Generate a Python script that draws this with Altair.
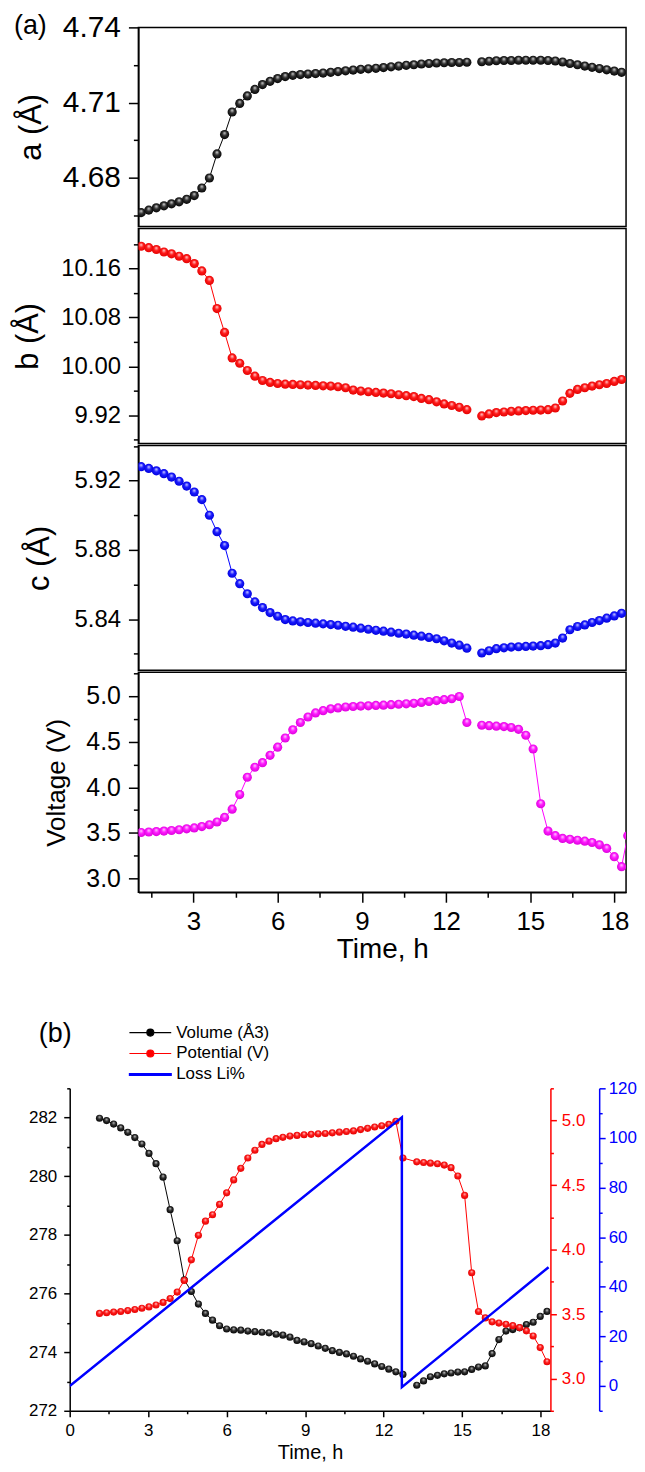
import altair as alt
import pandas as pd

FONT = "Liberation Sans"

# ---------------- values ----------------
T_CHARGE = [1.14, 1.41, 1.68, 1.95, 2.22, 2.49, 2.76, 3.03, 3.30, 3.57,
            3.84, 4.11, 4.38, 4.65, 4.92, 5.19, 5.46, 5.73, 6.00, 6.27,
            6.54, 6.81, 7.08, 7.35, 7.62, 7.89, 8.15, 8.42, 8.69, 8.96,
            9.23, 9.50, 9.77, 10.04, 10.31, 10.58, 10.85, 11.12, 11.39, 11.66,
            11.93, 12.20, 12.47, 12.74]
T_DISCHARGE = [13.27, 13.53, 13.79, 14.06, 14.32, 14.58, 14.84, 15.10, 15.37, 15.63,
               15.89, 16.15, 16.41, 16.68, 16.94, 17.20, 17.46, 17.72, 17.99, 18.25]

A_CHARGE = [4.6662, 4.6672, 4.6681, 4.6689, 4.6697, 4.6705, 4.6715, 4.6730, 4.6760, 4.6800,
            4.6896, 4.6973, 4.7063, 4.7097, 4.7127, 4.7153, 4.7172, 4.7185, 4.7196, 4.7204,
            4.7209, 4.7212, 4.7214, 4.7216, 4.7218, 4.7221, 4.7224, 4.7227, 4.7230, 4.7233,
            4.7235, 4.7237, 4.7240, 4.7243, 4.7246, 4.7249, 4.7251, 4.7254, 4.7256, 4.7258,
            4.7259, 4.7260, 4.7260, 4.7261]
A_DISCHARGE = [4.7263, 4.7265, 4.7267, 4.7268, 4.7268, 4.7269, 4.7269, 4.7269, 4.7269, 4.7268,
               4.7266, 4.7262, 4.7256, 4.7251, 4.7246, 4.7241, 4.7236, 4.7231, 4.7226, 4.7221]

B_CHARGE = [10.1963, 10.1940, 10.1910, 10.1870, 10.1840, 10.1800, 10.1760, 10.1680, 10.1560, 10.1405,
            10.0945, 10.0555, 10.0137, 10.0050, 9.9932, 9.9839, 9.9769, 9.9737, 9.9720, 9.9709,
            9.9704, 9.9699, 9.9693, 9.9688, 9.9682, 9.9677, 9.9666, 9.9650, 9.9612, 9.9596,
            9.9585, 9.9574, 9.9563, 9.9552, 9.9536, 9.9520, 9.9505, 9.9475, 9.9455, 9.9420,
            9.9385, 9.9360, 9.9330, 9.9292]
B_DISCHARGE = [9.9189, 9.9222, 9.9244, 9.9254, 9.9265, 9.9271, 9.9276, 9.9282, 9.9285, 9.9292,
               9.9319, 9.9433, 9.9558, 9.9623, 9.9650, 9.9677, 9.9699, 9.9720, 9.9753, 9.9785]

C_CHARGE = [5.9280, 5.9270, 5.9256, 5.9240, 5.9220, 5.9196, 5.9168, 5.9134, 5.9090, 5.9000,
            5.8905, 5.8825, 5.8665, 5.8605, 5.8547, 5.8500, 5.8467, 5.8438, 5.8417, 5.8398,
            5.8390, 5.8385, 5.8381, 5.8377, 5.8373, 5.8369, 5.8365, 5.8359, 5.8354, 5.8348,
            5.8342, 5.8336, 5.8331, 5.8325, 5.8319, 5.8314, 5.8308, 5.8302, 5.8295, 5.8287,
            5.8275, 5.8262, 5.8250, 5.8233]
C_DISCHARGE = [5.8205, 5.8218, 5.8230, 5.8235, 5.8239, 5.8241, 5.8243, 5.8245, 5.8247, 5.8253,
               5.8262, 5.8291, 5.8339, 5.8358, 5.8367, 5.8381, 5.8392, 5.8406, 5.8419, 5.8434]

V_CHARGE = [3.505, 3.510, 3.515, 3.520, 3.527, 3.535, 3.545, 3.555, 3.570, 3.590,
            3.620, 3.670, 3.760, 3.920, 4.110, 4.220, 4.270, 4.350, 4.440, 4.540,
            4.630, 4.710, 4.770, 4.815, 4.840, 4.860, 4.870, 4.880, 4.885, 4.890,
            4.893, 4.897, 4.900, 4.905, 4.910, 4.915, 4.920, 4.930, 4.940, 4.950,
            4.960, 4.970, 4.995, 4.710]
V_DISCHARGE = [4.680, 4.675, 4.670, 4.665, 4.655, 4.635, 4.570, 4.420, 3.820, 3.520,
               3.470, 3.440, 3.430, 3.420, 3.410, 3.395, 3.370, 3.330, 3.240, 3.130]
V_TAIL_T = [18.47]
V_TAIL = [3.47]

VOL_CHARGE = [281.98, 281.90, 281.78, 281.65, 281.50, 281.32, 281.10, 280.78, 280.43, 279.97,
              278.86, 277.80, 276.47, 276.07, 275.64, 275.32, 275.09, 274.90, 274.79, 274.76,
              274.75, 274.72, 274.70, 274.68, 274.66, 274.61, 274.58, 274.51, 274.40, 274.35,
              274.29, 274.21, 274.13, 274.05, 273.99, 273.94, 273.86, 273.77, 273.69, 273.60,
              273.51, 273.42, 273.33, 273.24]
VOL_DISCHARGE = [272.87, 273.02, 273.16, 273.21, 273.26, 273.29, 273.32, 273.33, 273.41, 273.49,
                 273.53, 273.95, 274.43, 274.72, 274.77, 274.83, 274.94, 275.02, 275.22, 275.39]

LOSS_T = [0.0, 12.70, 12.70, 18.31]
LOSS_V = [0.0, 108.3, -0.5, 47.9]

SERIES = ["Volume (Å3)", "Potential (V)", "Loss Li%"]

# tick values
A_MAJOR, A_MINOR = [4.68, 4.71, 4.74], [4.665, 4.695, 4.725]
B_MAJOR, B_MINOR = [9.92, 10.00, 10.08, 10.16], [9.88, 9.96, 10.04, 10.12, 10.20]
C_MAJOR, C_MINOR = [5.84, 5.88, 5.92], [5.82, 5.86, 5.90, 5.94]
V_MAJOR, V_MINOR = [3.0, 3.5, 4.0, 4.5, 5.0], [3.25, 3.75, 4.25, 4.75, 5.25]
XA_MAJOR, XA_MINOR = [3, 6, 9, 12, 15, 18], [1.5, 4.5, 7.5, 10.5, 13.5, 16.5]
VOL_MAJOR, VOL_MINOR = [272, 274, 276, 278, 280, 282], [273, 275, 277, 279, 281, 283]
POT_MAJOR, POT_MINOR = [3.0, 3.5, 4.0, 4.5, 5.0], [2.75, 3.25, 3.75, 4.25, 4.75, 5.25]
LOSS_MAJOR, LOSS_MINOR = [0, 20, 40, 60, 80, 100, 120], [-10, 10, 30, 50, 70, 90, 110]
XB_MAJOR, XB_MINOR = [0, 3, 6, 9, 12, 15, 18], [1.5, 4.5, 7.5, 10.5, 13.5, 16.5]

XDOM_A = [1.04, 18.41]
XDOM_B = [0.0, 18.38]


def frame(tc, vc, td, vd, tt=(), tv=()):
    rows = [{"t": t, "v": v, "seg": "charge"} for t, v in zip(tc, vc)]
    rows += [{"t": t, "v": v, "seg": "discharge"}
             for t, v in zip(list(td) + list(tt), list(vd) + list(tv))]
    return pd.DataFrame(rows)


def ball(light, mid, dark):
    return alt.RadialGradient(
        gradient="radial", x1=0.5, y1=0.3, r1=0.0, x2=0.5, y2=0.5, r2=0.55,
        stops=[alt.GradientStop(offset=0.0, color=light),
               alt.GradientStop(offset=0.45, color=mid),
               alt.GradientStop(offset=1.0, color=dark)])


AX = dict(domainWidth=1.5, tickWidth=1.5, grid=False, labelFont=FONT, titleFont=FONT,
          titleFontWeight="normal", labelOverlap=False)


def ax_black(**kw):
    return alt.Axis(domainColor="black", tickColor="black", labelColor="black",
                    titleColor="black", **AX, **kw)


def panel(df, color, fill, ydom, ymaj, ymin, fmt, lab_fs, title, title_fs, title_pad,
          height, show_x=False, extra=()):
    xs = alt.Scale(domain=XDOM_A, nice=False, zero=False)
    ys = alt.Scale(domain=ydom, nice=False, zero=False)
    ymaj_ax = ax_black(orient="left", values=ymaj, format=fmt, labelFontSize=lab_fs,
                       labelPadding=8, tickSize=10, title=title, titleFontSize=title_fs,
                       titlePadding=title_pad)
    ymin_ax = ax_black(orient="left", values=ymin, labels=False, domain=False,
                       tickSize=5, title=None)
    if show_x:
        xmaj_ax = ax_black(orient="bottom", values=XA_MAJOR, format="d", labelFontSize=26,
                           labelPadding=6, tickSize=10, title="Time, h", titleFontSize=28,
                           titlePadding=2, labelFlush=False)
        xmin_ax = ax_black(orient="bottom", values=XA_MINOR, labels=False, domain=False,
                           tickSize=5, title=None)
    else:
        xmaj_ax = None
        xmin_ax = None
    line = alt.Chart(df).mark_line(color=color, strokeWidth=1, clip=True).encode(
        x=alt.X("t:Q", scale=xs, axis=xmaj_ax),
        y=alt.Y("v:Q", scale=ys, axis=ymaj_ax),
        detail="seg:N")
    pts = alt.Chart(df).mark_circle(fill=fill, size=85, opacity=1, clip=True).encode(
        x=alt.X("t:Q", scale=xs, axis=xmin_ax),
        y=alt.Y("v:Q", scale=ys, axis=ymin_ax))
    return alt.layer(line, pts, *extra).resolve_scale(
        x="independent", y="independent").properties(
        width=490, height=height, view=alt.ViewBackground(stroke="black", strokeWidth=1.5))


one = pd.DataFrame({"k": [0]})
label_a = alt.Chart(one).mark_text(text="(a)", font=FONT, fontSize=27, align="left",
                                   baseline="middle", color="black").encode(
    x=alt.value(-125), y=alt.value(-1))

pa = panel(frame(T_CHARGE, A_CHARGE, T_DISCHARGE, A_DISCHARGE), "black",
           ball("#d8d8d8", "#303030", "#000000"), [4.6607, 4.74], A_MAJOR, A_MINOR, ".2f",
           30, "a (Å)", 31, 15, 200, extra=[label_a])
pb = panel(frame(T_CHARGE, B_CHARGE, T_DISCHARGE, B_DISCHARGE), "#ff0000",
           ball("#ffd8d8", "#ff1a1a", "#e00000"), [9.874, 10.2255], B_MAJOR, B_MINOR, ".2f",
           24, "b (Å)", 31, 16, 216)
pc = panel(frame(T_CHARGE, C_CHARGE, T_DISCHARGE, C_DISCHARGE), "#0000ff",
           ball("#d8d8ff", "#1a1aff", "#0000d8"), [5.8105, 5.9403], C_MAJOR, C_MINOR, ".2f",
           24, "c (Å)", 31, 19, 226)
pv = panel(frame(T_CHARGE, V_CHARGE, T_DISCHARGE, V_DISCHARGE, V_TAIL_T, V_TAIL), "#ff00ff",
           ball("#ffd8ff", "#ff1aff", "#d800d8"), [2.85, 5.26], V_MAJOR, V_MINOR, ".1f",
           25, "Voltage (V)", 26, 16, 221, show_x=True)

panels_a = alt.vconcat(pa, pb, pc, pv, spacing=0)
spacer = alt.Chart(one).mark_point(opacity=0).properties(
    width=69, height=10, view=alt.ViewBackground(stroke=None))
block_a = alt.hconcat(spacer, panels_a, spacing=0, bounds="flush")

# ---------------- panel (b) ----------------
RED, BLUE = "#ff0000", "#0000ff"
xsb = alt.Scale(domain=XDOM_B, nice=False, zero=False)
vol_s = alt.Scale(domain=[272, 283], nice=False, zero=False)
pot_s = alt.Scale(domain=[2.75, 5.25], nice=False, zero=False)
loss_s = alt.Scale(domain=[-10, 120], nice=False, zero=False)

df_vol = frame(T_CHARGE, VOL_CHARGE, T_DISCHARGE, VOL_DISCHARGE)
df_pot = pd.DataFrame({"t": T_CHARGE + T_DISCHARGE, "v": V_CHARGE + V_DISCHARGE})
df_loss = pd.DataFrame({"t": LOSS_T, "v": LOSS_V, "o": list(range(len(LOSS_T)))})

xb_maj = ax_black(orient="bottom", values=XB_MAJOR, format="d", labelFontSize=17,
                  labelPadding=6, tickSize=6, title="Time, h", titleFontSize=20,
                  titlePadding=4, labelFlush=False)
xb_min = ax_black(orient="bottom", values=XB_MINOR, labels=False, domain=False, tickSize=3,
                  title=None)


def ax_col(col, **kw):
    return alt.Axis(domainColor=col, tickColor=col, labelColor=col, titleColor=col, **AX, **kw)


vol_line = alt.Chart(df_vol).mark_line(color="black", strokeWidth=1, clip=True).encode(
    x=alt.X("t:Q", scale=xsb, axis=xb_maj),
    y=alt.Y("v:Q", scale=vol_s, axis=ax_black(orient="left", values=VOL_MAJOR, format="d",
                                                labelFontSize=17, labelPadding=7, tickSize=6,
                                                title=None)),
    detail="seg:N")
vol_pts = alt.Chart(df_vol).mark_circle(fill=ball("#d0d0d0", "#303030", "#000000"), size=52,
                                        opacity=1, clip=True).encode(
    x=alt.X("t:Q", scale=xsb, axis=xb_min),
    y=alt.Y("v:Q", scale=vol_s, axis=ax_black(orient="left", values=VOL_MINOR, labels=False,
                                                domain=False, tickSize=3, title=None)))
pot_line = alt.Chart(df_pot).mark_line(color=RED, strokeWidth=1, clip=True).encode(
    x=alt.X("t:Q", scale=xsb, axis=None),
    y=alt.Y("v:Q", scale=pot_s, axis=ax_col(RED, orient="right", values=POT_MAJOR, format=".1f",
                                              labelFontSize=17, labelPadding=5, tickSize=6,
                                              title=None)))
pot_pts = alt.Chart(df_pot).mark_circle(fill=ball("#ffd0d0", "#ff1a1a", "#e00000"), size=52,
                                        opacity=1, clip=True).encode(
    x=alt.X("t:Q", scale=xsb, axis=None),
    y=alt.Y("v:Q", scale=pot_s, axis=ax_col(RED, orient="right", values=POT_MINOR, labels=False,
                                              domain=False, tickSize=3, title=None)))
loss_line = alt.Chart(df_loss).mark_line(color=BLUE, strokeWidth=2.5, clip=True).encode(
    x=alt.X("t:Q", scale=xsb, axis=None),
    y=alt.Y("v:Q", scale=loss_s, axis=ax_col(BLUE, orient="right", offset=49, values=LOSS_MAJOR,
                                               format="d", labelFontSize=17, labelPadding=3,
                                               tickSize=6, title=None)),
    order="o:Q")
loss_minor = alt.Chart(df_loss).mark_line(opacity=0, clip=True).encode(
    x=alt.X("t:Q", scale=xsb, axis=None),
    y=alt.Y("v:Q", scale=loss_s, axis=ax_col(BLUE, orient="right", offset=49, values=LOSS_MINOR,
                                               labels=False, domain=False, tickSize=3,
                                               title=None)),
    order="o:Q")

P_DOT = "M-2.1,0L-0.35,0M0.35,0L2.1,0M-0.35,0A0.35,0.35,0,1,1,0.35,0A0.35,0.35,0,1,1,-0.35,0Z"
P_LINE = "M-2.1,-0.09L2.1,-0.09L2.1,0.09L-2.1,0.09Z"
LEG = alt.Legend(orient="none", legendX=70, legendY=-67, title=None, symbolSize=400,
                 symbolStrokeWidth=1.2, labelFontSize=17, labelFont=FONT, labelColor="black",
                 labelOffset=15, rowPadding=2, padding=0)
leg_df = pd.DataFrame({"series": SERIES})
legend_layer = alt.Chart(leg_df).mark_point(filled=True, opacity=1).encode(
    fill=alt.Fill("series:N", scale=alt.Scale(domain=SERIES, range=["black", RED, BLUE]),
                  legend=LEG),
    stroke=alt.Stroke("series:N", scale=alt.Scale(domain=SERIES, range=["black", RED, BLUE]),
                      legend=LEG),
    shape=alt.Shape("series:N", scale=alt.Scale(domain=SERIES, range=[P_DOT, P_DOT, P_LINE]),
                    legend=LEG),
).transform_filter("false")

label_b = alt.Chart(one).mark_text(text="(b)", font=FONT, fontSize=27, align="left",
                                   baseline="middle", color="black").encode(
    x=alt.value(-31), y=alt.value(-55))

plot_b = alt.layer(vol_line, vol_pts, pot_line, pot_pts, loss_line, loss_minor,
                   legend_layer, label_b).resolve_scale(
    x="independent", y="independent").properties(
    width=483, height=324, view=alt.ViewBackground(stroke=None))

chart = alt.vconcat(block_a, plot_b, spacing=55).resolve_scale(
    fill="independent", stroke="independent", shape="independent").resolve_legend(
    fill="independent", stroke="independent", shape="independent").properties(
    padding={"left": 4, "top": 0, "right": 0, "bottom": 0}, background="white"
).configure_text(font=FONT)

chart.save("out.html", embed_options={"renderer": "svg", "actions": False})
